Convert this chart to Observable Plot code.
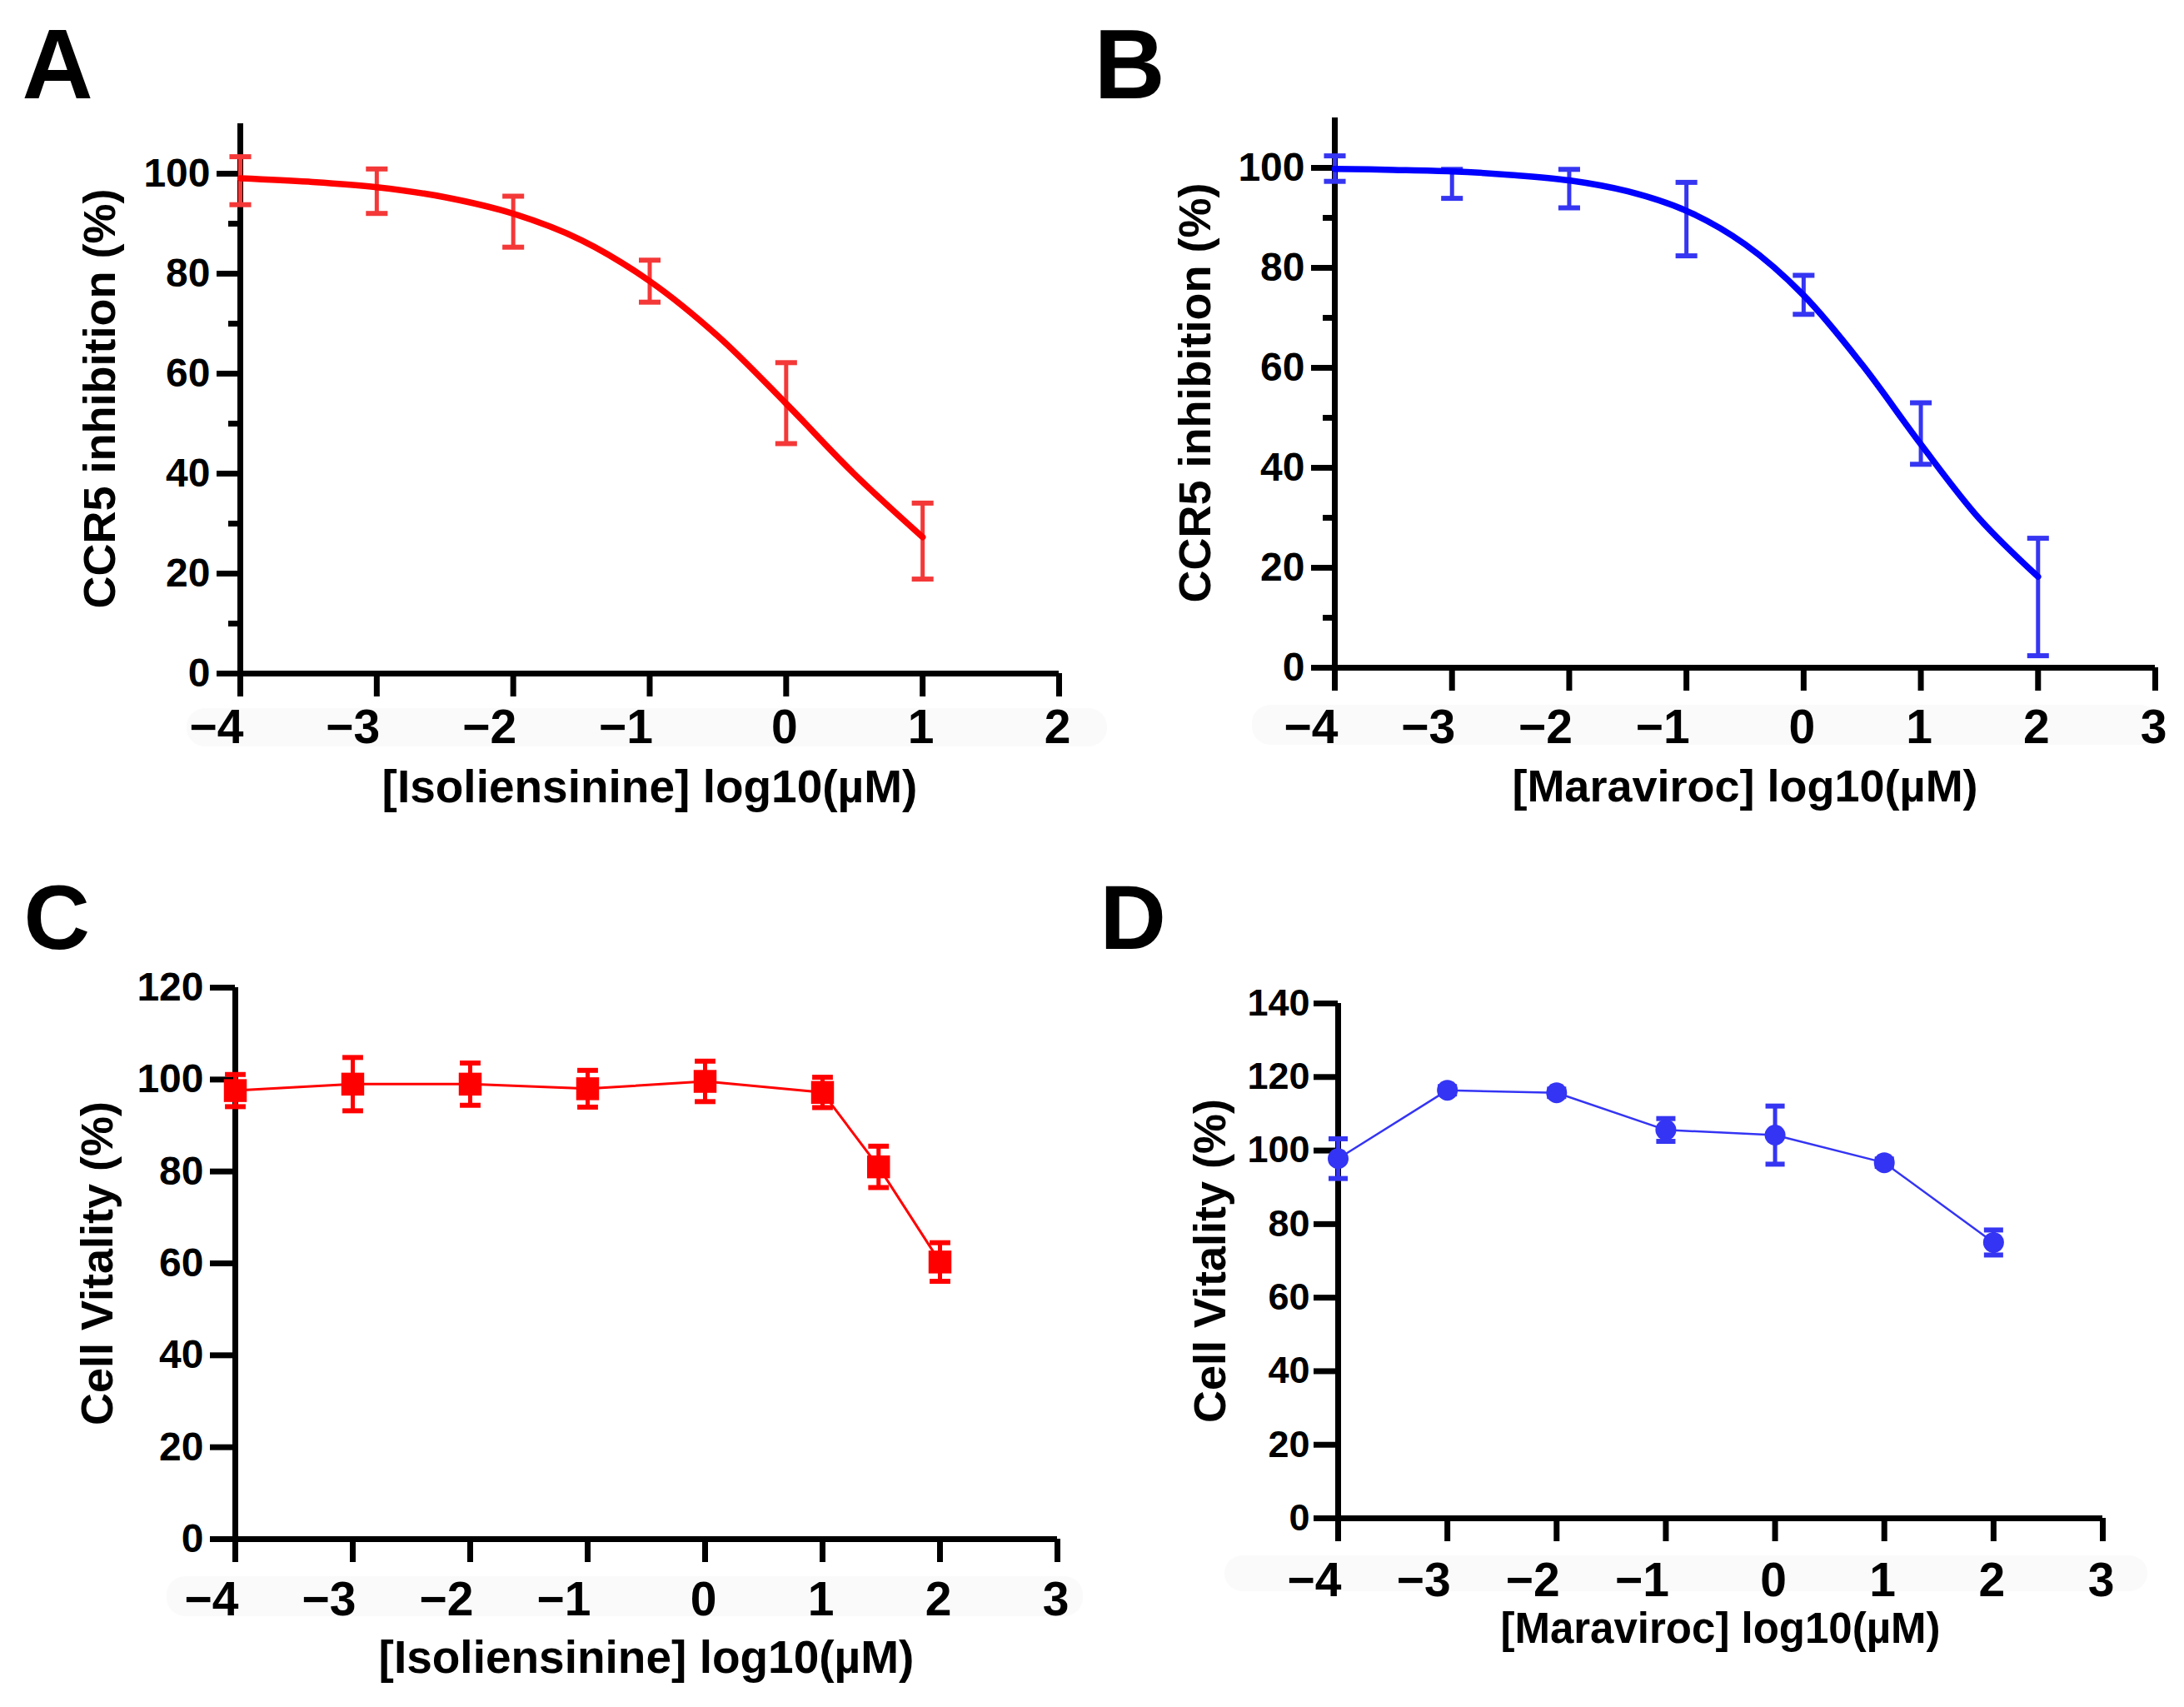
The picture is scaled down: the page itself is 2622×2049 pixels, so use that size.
<!DOCTYPE html>
<html><head><meta charset="utf-8">
<script src="https://cdn.jsdelivr.net/npm/d3@7"></script>
<script src="https://cdn.jsdelivr.net/npm/@observablehq/plot@0.6"></script>
<style>
body{margin:0;background:#fff;}
#root{position:relative;width:2622px;height:2049px;overflow:hidden;background:#fff;}
.panel{position:absolute;}
.band{position:absolute;background:#fafafa;border-radius:22px;}
</style></head><body><div id="root"></div>
<script>
// ---------- Panel A: Isoliensinine CCR5 inhibition ----------
const aX = [-4, -3, -2, -1, 0, 1];
const aMean = [98.6, 96.5, 90.4, 78.5, 54.1, 26.5];
const aSD = [4.8, 4.45, 5.1, 4.2, 8.1, 7.6];
const aCurveX = [-4, -3.5, -3, -2.5, -2, -1.5, -1, -0.5, 0, 0.5, 1];
const aCurveY = [99.1, 98.4, 97.3, 95.3, 92.0, 86.7, 78.5, 67.5, 54.0, 39.9, 27.3];

// ---------- Panel B: Maraviroc CCR5 inhibition ----------
const bX = [-4, -3, -2, -1, 0, 1, 2];
const bMean = [99.85, 96.8, 95.85, 89.75, 74.6, 46.85, 14.15];
const bSD = [2.55, 2.9, 3.85, 7.35, 3.9, 6.15, 11.75];
const bCurveX = [-4, -3.5, -3, -2.5, -2, -1.5, -1, -0.5, 0, 0.5, 1, 1.5, 2];
const bCurveY = [99.8, 99.6, 99.3, 98.6, 97.5, 95.3, 91.4, 84.7, 74.5, 60.6, 44.7, 29.8, 18.2];

// ---------- Panel C: Isoliensinine cell vitality ----------
const cX = [-4, -3, -2, -1, 0, 1, 1.477, 2];
const cMean = [97.6, 99.0, 99.0, 98.0, 99.6, 97.2, 81.0, 60.3];
const cSD = [3.5, 5.8, 4.6, 4.0, 4.4, 3.3, 4.5, 4.2];

// ---------- Panel D: Maraviroc cell vitality ----------
const dX = [-4, -3, -2, -1, 0, 1, 2];
const dMean = [97.8, 116.4, 115.7, 105.6, 104.2, 96.7, 75.0];
const dSD = [5.4, 1.0, 1.0, 3.1, 7.9, 1.0, 3.4];

// ---------- Axis ticks & labels ----------
const xTicksA = [-4, -3, -2, -1, 0, 1, 2];
const xTicksB = [-4, -3, -2, -1, 0, 1, 2, 3];
const yMajorAB = [0, 20, 40, 60, 80, 100];
const yMinorAB = [10, 30, 50, 70, 90];
const yTicksC = [0, 20, 40, 60, 80, 100, 120];
const yTicksD = [0, 20, 40, 60, 80, 100, 120, 140];
const xLabelIso = "[Isoliensinine] log10(µM)";
const xLabelMar = "[Maraviroc] log10(µM)";
const yLabelCCR5 = "CCR5 inhibition (%)";
const yLabelVit = "Cell Vitality (%)";
const panelLetters = ["A", "B", "C", "D"];

const FONT = "'Liberation Sans', Arial, Helvetica, sans-serif";
const RED = "#ff0000", RED_ERR = "#f43838", BLUE = "#0000ff", BLUE_ERR = "#3535f2", BLUE_DOT = "#3434f4";

const zip = (xs, ms, ss) => xs.map((x, i) => ({x, y: ms[i], sd: ss[i]}));
const zipC = (xs, ys) => xs.map((x, i) => ({x, y: ys[i]}));
const capSym = {draw(ctx, size) { const w = Math.sqrt(size) / 2; ctx.moveTo(-w, 0); ctx.lineTo(w, 0); }};
const fmt = d => d < 0 ? "\u2212" + Math.abs(d) : String(d);

function errMarks(data, color, cap) {
  return [
    Plot.ruleX(data, {x: "x", y1: d => d.y - d.sd, y2: d => d.y + d.sd, stroke: color, strokeWidth: 5}),
    Plot.dot(data, {x: "x", y: d => d.y + d.sd, symbol: capSym, r: cap, stroke: color, strokeWidth: 6, fill: "none"}),
    Plot.dot(data, {x: "x", y: d => d.y - d.sd, symbol: capSym, r: cap, stroke: color, strokeWidth: 6, fill: "none"})
  ];
}

function panel(cfg) {
  const xt = cfg.xTicks;
  const marks = [
    Plot.ruleX([cfg.xDomain[0]], {strokeWidth: 7}),
    Plot.ruleY([0], {strokeWidth: 7}),
    Plot.axisY({ticks: cfg.yMajor, tickSize: cfg.yTickSize, tickPadding: cfg.yPad, strokeWidth: 7, fontSize: cfg.yFont, tickFormat: d => String(d), label: null}),
    ...(cfg.yMinor ? [Plot.axisY({ticks: cfg.yMinor, tickSize: 14, strokeWidth: 7, tickFormat: () => "", label: null})] : []),
    Plot.axisX({ticks: xt, tickSize: 28, strokeWidth: 7, tickFormat: () => "", label: null}),
    Plot.text(xt.filter(d => d < 0), {x: d => d, text: fmt, frameAnchor: "bottom", dy: cfg.xTickDy, dx: 4, textAnchor: "end", lineAnchor: "middle", fontSize: 57}),
    Plot.text(xt.filter(d => d >= 0), {x: d => d, text: fmt, frameAnchor: "bottom", dy: cfg.xTickDy, dx: -2, textAnchor: "middle", lineAnchor: "middle", fontSize: 57}),
    Plot.text([cfg.xLabel], {text: d => d, frameAnchor: "bottom", dy: cfg.xTitleDy, lineAnchor: "middle", fontSize: cfg.xTitleFont}),
    Plot.text([cfg.yLabel], {text: d => d, frameAnchor: "left", rotate: -90, dx: -cfg.yTitleDx, lineAnchor: "middle", textAnchor: "middle", fontSize: 54}),
    Plot.text([cfg.letter], {text: d => d, frameAnchor: "top-left", dx: cfg.letterDx, dy: cfg.letterDy, textAnchor: "start", lineAnchor: "bottom", fontSize: cfg.letterFont}),
    ...cfg.dataMarks
  ];
  return Plot.plot({
    width: cfg.width, height: cfg.height,
    marginLeft: cfg.ml, marginRight: cfg.mr, marginTop: cfg.mt, marginBottom: cfg.mb,
    x: {domain: cfg.xDomain}, y: {domain: cfg.yDomain},
    style: {fontFamily: FONT, fontWeight: "bold", fontSize: "48px", background: "transparent", overflow: "visible", color: "#000"},
    marks
  });
}

const dataA = zip(aX, aMean, aSD), dataB = zip(bX, bMean, bSD), dataC = zip(cX, cMean, cSD), dataD = zip(dX, dMean, dSD);

const panels = [
  {left: 0, top: 0, width: 1311, height: 1030, ml: 288, mr: 40, mt: 148, mb: 222,
   xDomain: [-4, 2], yDomain: [0, 110], xTicks: xTicksA, yMajor: yMajorAB, yMinor: yMinorAB,
   yTickSize: 28, yPad: 8, yFont: 48, xTickDy: 65, xTitleDy: 137, xTitleFont: 55, yTitleDx: 168,
   xLabel: xLabelIso, yLabel: yLabelCCR5, letter: panelLetters[0], letterDx: -262, letterDy: -31, letterFont: 118,
   dataMarks: [...errMarks(dataA, RED_ERR, 14.7), Plot.line(zipC(aCurveX, aCurveY), {x: "x", y: "y", stroke: RED, strokeWidth: 7.5, curve: "catmull-rom"})]},
  {left: 1311, top: 0, width: 1311, height: 1030, ml: 291, mr: 35, mt: 141, mb: 229,
   xDomain: [-4, 3], yDomain: [0, 110], xTicks: xTicksB, yMajor: yMajorAB, yMinor: yMinorAB,
   yTickSize: 28, yPad: 8, yFont: 48, xTickDy: 72, xTitleDy: 143, xTitleFont: 54, yTitleDx: 167,
   xLabel: xLabelMar, yLabel: yLabelCCR5, letter: panelLetters[1], letterDx: -289, letterDy: -24, letterFont: 118,
   dataMarks: [...errMarks(dataB, BLUE_ERR, 14.7), Plot.line(zipC(bCurveX, bCurveY), {x: "x", y: "y", stroke: BLUE, strokeWidth: 7.5, curve: "catmull-rom"})]},
  {left: 0, top: 1030, width: 1311, height: 1019, ml: 282, mr: 42, mt: 155, mb: 202,
   xDomain: [-4, 3], yDomain: [0, 120], xTicks: xTicksB, yMajor: yTicksC, yMinor: null,
   yTickSize: 30, yPad: 8, yFont: 48, xTickDy: 73, xTitleDy: 143, xTitleFont: 55, yTitleDx: 165,
   xLabel: xLabelIso, yLabel: yLabelVit, letter: panelLetters[2], letterDx: -254, letterDy: -47, letterFont: 110,
   dataMarks: [Plot.line(dataC, {x: "x", y: "y", stroke: RED, strokeWidth: 3}), ...errMarks(dataC, RED, 14),
     Plot.dot(dataC, {x: "x", y: "y", symbol: "square", r: 15.5, fill: RED, stroke: "none"})]},
  {left: 1311, top: 1030, width: 1311, height: 1019, ml: 295, mr: 98, mt: 174, mb: 227,
   xDomain: [-4, 3], yDomain: [0, 140], xTicks: xTicksB, yMajor: yTicksD, yMinor: null,
   yTickSize: 29, yPad: 5, yFont: 45, xTickDy: 75, xTitleDy: 133, xTitleFont: 51, yTitleDx: 153,
   xLabel: xLabelMar, yLabel: yLabelVit, letter: panelLetters[3], letterDx: -286, letterDy: -66, letterFont: 110,
   dataMarks: [Plot.line(dataD, {x: "x", y: "y", stroke: BLUE_DOT, strokeWidth: 2.5}), ...errMarks(dataD, BLUE_ERR, 13),
     Plot.dot(dataD, {x: "x", y: "y", r: 12.5, fill: BLUE_DOT, stroke: "none"})]}
];

const root = document.getElementById("root");
// very faint band behind x tick labels (present in the original image)
[[224, 850, 1105, 46], [1503, 846, 1089, 48], [200, 1892, 1100, 48], [1470, 1867, 1108, 43]].forEach(([l, t, w, h]) => {
  const b = document.createElement("div");
  b.className = "band";
  Object.assign(b.style, {left: l + "px", top: t + "px", width: w + "px", height: h + "px"});
  root.appendChild(b);
});
panels.forEach(cfg => {
  const wrap = document.createElement("div");
  wrap.className = "panel";
  wrap.style.left = cfg.left + "px";
  wrap.style.top = cfg.top + "px";
  wrap.appendChild(panel(cfg));
  root.appendChild(wrap);
});
</script></body></html>
